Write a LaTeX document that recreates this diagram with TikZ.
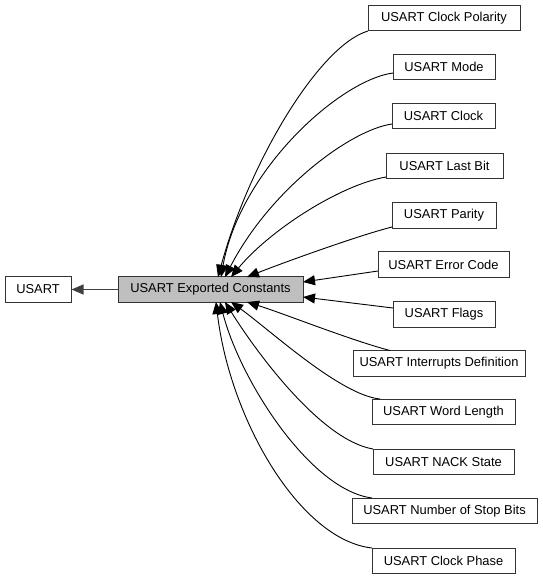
\documentclass[tikz,border=0pt]{standalone}
\usepackage{fontspec}
\setmainfont{Liberation Sans}
\usetikzlibrary{arrows.meta}
\begin{document}
\begin{tikzpicture}[x=1pt,y=-1pt,
  box/.style={draw=black!80,line width=1pt,inner sep=0pt,minimum height=25.5pt,
    font=\fontsize{12.9}{15}\selectfont,text=black},
  mainbox/.style={box,fill=black!25},
  edge/.style={draw=black,line width=0.9pt,-{Triangle[length=12pt,width=10pt]}},
  link/.style={draw=black!75,line width=1.3pt,-{Triangle[length=12pt,width=10pt]}}]
\useasboundingbox (0,0) rectangle (543,579);
% nodes
\node[box,minimum width=66pt] (usart) at (38,289.5) {USART};
\node[mainbox,minimum width=185pt] (main) at (210.5,289.5) {USART Exported Constants};
\node[box,minimum width=152pt] (cpol) at (444,18) {USART Clock Polarity};
\node[box,minimum width=102pt] (mode) at (444,67) {USART Mode};
\node[box,minimum width=103pt] (clock) at (443.5,116) {USART Clock};
\node[box,minimum width=117pt] (last) at (444.5,166) {USART Last Bit};
\node[box,minimum width=104pt] (parity) at (444,215.5) {USART Parity};
\node[box,minimum width=131pt] (err) at (443.5,264.5) {USART Error Code};
\node[box,minimum width=102pt] (flags) at (444,314.5) {USART Flags};
\node[box,minimum width=172pt] (intr) at (439,363.5) {USART Interrupts Definition};
\node[box,minimum width=143pt] (word) at (443.5,412) {USART Word Length};
\node[box,minimum width=141pt] (nack) at (443.5,462) {USART NACK State};
\node[box,minimum width=185pt] (stop) at (444.5,511) {USART Number of Stop Bits};
\node[box,minimum width=143pt] (cpha) at (443.5,561) {USART Clock Phase};
% tip coordinates on main box
\coordinate (t1) at (218,277);
\coordinate (t2) at (221,277);
\coordinate (t3) at (225,277);
\coordinate (t4) at (231,277);
\coordinate (t5) at (247,277);
\coordinate (t6) at (303,282);
\coordinate (t7) at (303,297);
\coordinate (t8) at (247,302);
\coordinate (t9) at (231,302);
\coordinate (t10) at (225,302);
\coordinate (t11) at (220,302);
\coordinate (t12) at (216,302);
% start coordinates on the right boxes
\coordinate (s1) at (368,31);
\coordinate (s2) at (393,73);
\coordinate (s3) at (392,124);
\coordinate (s4) at (386,177);
\coordinate (s5) at (392,227);
\coordinate (s6) at (378,271);
\coordinate (s7) at (393,308);
\coordinate (s8) at (390,350.5);
\coordinate (s9) at (380,399);
\coordinate (s10) at (373,449);
\coordinate (s11) at (372,498);
\coordinate (s12) at (372,548);
% connectors
\draw[link] (main.west) -- (usart.east);
\draw[edge] (s1) .. controls (320,45) and (250,160) .. (t1);
\draw[edge] (s2) .. controls (340,80) and (240,170) .. (t2);
\draw[edge] (s3) .. controls (350,130) and (270,190) .. (t3);
\draw[edge] (s4) .. controls (340,185) and (270,230) .. (t4);
\draw[edge] (s5) .. controls (360,235) and (285,262) .. (t5);
\draw[edge] (s6) -- (t6);
\draw[edge] (s7) -- (t7);
\draw[edge] (s8) .. controls (350,340) and (285,314) .. (t8);
\draw[edge] (s9) .. controls (340,395) and (270,330) .. (t9);
\draw[edge] (s10) .. controls (320,440) and (255,350) .. (t10);
\draw[edge] (s11) .. controls (310,490) and (240,380) .. (t11);
\draw[edge] (s12) .. controls (300,540) and (230,420) .. (t12);
\end{tikzpicture}
\end{document}
